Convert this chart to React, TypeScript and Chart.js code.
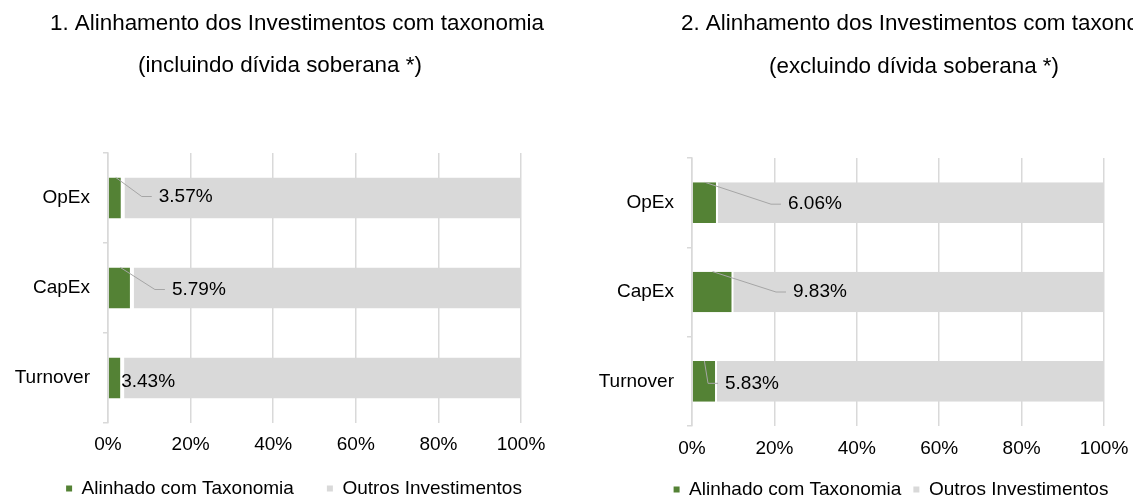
import React, { useEffect, useRef } from 'react';
import { Chart, registerables } from 'chart.js';

Chart.register(...registerables);

// ---------- data ----------
const categories = ['OpEx', 'CapEx', 'Turnover'];
const seriesNames = ['Alinhado com Taxonomia', 'Outros Investimentos'];
const alignedIncl = [3.57, 5.79, 3.43];
const othersIncl = [96.43, 94.21, 96.57];
const alignedExcl = [6.06, 9.83, 5.83];
const othersExcl = [93.94, 90.17, 94.17];
const xTickValues = [0, 20, 40, 60, 80, 100];
const titleIncl = ['1. Alinhamento dos Investimentos com taxonomia', '(incluindo dívida soberana *)'];
const titleExcl = ['2. Alinhamento dos Investimentos com taxonomia', '(excluindo dívida soberana *)'];

// ---------- style ----------
const FONT = '"Liberation Sans", Arial, sans-serif';
const TEXT = '#000000';
const GREEN = '#548235';
const GREY = '#d9d9d9';
const GRID = '#d9d9d9';
const LEADER = '#a6a6a6';
const FS = 19;

type Spec = {
  left: number; width: number; height: number;
  top: number; bottom: number; axisLeft: number; plotRight: number;
  tickPad: number; legendPad: number; gap: number;
  titles: string[]; titleX: number[]; titleY: number[];
  aligned: number[]; others: number[];
  labelDx: number[]; labelDy: number[]; leader: boolean[];
};

const specs: Spec[] = [
  {
    left: 0, width: 588, height: 508, top: 153, bottom: 423, axisLeft: 108, plotRight: 521,
    tickPad: 10, legendPad: 33, gap: 2,
    titles: titleIncl, titleX: [297, 280], titleY: [30, 72],
    aligned: alignedIncl, others: othersIncl,
    labelDx: [36, 40, -1], labelDy: [-1.5, 1.5, 4], leader: [true, true, false],
  },
  {
    left: 598, width: 586, height: 509, top: 158, bottom: 426, axisLeft: 94, plotRight: 506,
    tickPad: 11, legendPad: 12, gap: 1,
    titles: titleExcl, titleX: [330, 316], titleY: [30, 73],
    aligned: alignedExcl, others: othersExcl,
    labelDx: [71, 60.5, 9], labelDy: [1.5, 0, 2], leader: [true, true, true],
  },
];

function titlePlugin(spec: Spec) {
  return {
    id: 'twoLineTitle',
    afterDraw(chart: any) {
      const ctx = chart.ctx;
      ctx.save();
      ctx.font = `22.4px ${FONT}`;
      ctx.fillStyle = TEXT;
      ctx.textAlign = 'center';
      ctx.textBaseline = 'alphabetic';
      spec.titles.forEach((t, i) => ctx.fillText(t, spec.titleX[i], spec.titleY[i]));
      ctx.restore();
    },
  };
}

// lets the x tick labels overhang into the legend band without being clipped
const tickAreaPlugin = {
  id: 'tickArea',
  afterLayout(chart: any) {
    const x = chart.scales.x;
    if (x) x.bottom = Math.max(x.bottom, x.top + 40);
  },
};

function labelPlugin(spec: Spec) {
  return {
    id: 'leaderLabels',
    afterDatasetsDraw(chart: any) {
      const meta = chart.getDatasetMeta(0);
      const ctx = chart.ctx;
      ctx.save();
      ctx.font = `${FS}px ${FONT}`;
      ctx.fillStyle = TEXT;
      ctx.textAlign = 'left';
      ctx.textBaseline = 'middle';
      ctx.strokeStyle = LEADER;
      ctx.lineWidth = 1;
      meta.data.forEach((el: any, i: number) => {
        const { x, y, base, height } = el.getProps(['x', 'y', 'base', 'height'], true);
        const lx = x + spec.labelDx[i];
        const ly = y + spec.labelDy[i];
        if (spec.leader[i]) {
          ctx.beginPath();
          ctx.moveTo((x + base) / 2, y - height / 2);
          ctx.lineTo(lx - 17, ly);
          ctx.lineTo(lx - 7, ly);
          ctx.stroke();
        }
        const v = chart.data.datasets[0].data[i] as number;
        ctx.fillText(v.toFixed(2) + '%', lx, ly);
      });
      ctx.restore();
    },
  };
}

function buildConfig(spec: Spec): any {
  const legendHeight = FS + spec.legendPad + 10;
  return {
    type: 'bar',
    data: {
      labels: categories,
      datasets: [
        {
          label: seriesNames[0],
          data: spec.aligned,
          backgroundColor: GREEN,
          borderColor: '#ffffff',
          borderWidth: { top: 0, bottom: 0, left: 0, right: spec.gap },
          borderSkipped: false,
          barPercentage: 0.456,
          categoryPercentage: 1,
        },
        {
          label: seriesNames[1],
          data: spec.others,
          backgroundColor: GREY,
          borderColor: '#ffffff',
          borderWidth: { top: 0, bottom: 0, left: spec.gap, right: 0 },
          borderSkipped: false,
          barPercentage: 0.456,
          categoryPercentage: 1,
        },
      ],
    },
    options: {
      indexAxis: 'y',
      responsive: false,
      animation: false,
      layout: { padding: { top: spec.top, left: 0, right: 0, bottom: 0 } },
      scales: {
        x: {
          stacked: true,
          min: 0,
          max: 100,
          afterBuildTicks: (s: any) => { s.ticks = xTickValues.map((v) => ({ value: v })); },
          afterFit: (s: any) => {
            s.height = spec.height - legendHeight - spec.bottom;
            s.paddingRight = spec.width - spec.plotRight;
          },
          ticks: {
            callback: (v: any) => `${v}%`,
            padding: spec.tickPad,
            color: TEXT,
            font: { family: FONT, size: FS },
            maxRotation: 0,
          },
          grid: { color: GRID, lineWidth: 1.5, drawTicks: false },
          border: { display: false },
        },
        y: {
          stacked: true,
          afterFit: (s: any) => { s.width = spec.axisLeft; },
          ticks: {
            padding: 13,
            color: TEXT,
            font: { family: FONT, size: FS },
          },
          grid: { display: true, drawOnChartArea: false, drawTicks: true, tickLength: 5, color: GRID, lineWidth: 1.5 },
          border: { display: true, color: GRID, width: 1.5 },
        },
      },
      plugins: {
        title: { display: false },
        tooltip: { enabled: false },
        legend: {
          display: true,
          position: 'bottom',
          labels: {
            boxWidth: 6,
            boxHeight: 6,
            padding: spec.legendPad,
            color: TEXT,
            font: { family: FONT, size: FS },
            generateLabels: (chart: any) =>
              (Chart.defaults.plugins.legend.labels.generateLabels as any)(chart).map((l: any) => ({ ...l, lineWidth: 0 })),
          },
        },
      },
    },
    plugins: [tickAreaPlugin, titlePlugin(spec), labelPlugin(spec)],
  };
}

function ChartCanvas({ spec }: { spec: Spec }) {
  const ref = useRef<HTMLCanvasElement>(null);
  useEffect(() => {
    const chart = new Chart(ref.current as HTMLCanvasElement, buildConfig(spec));
    return () => chart.destroy();
  }, [spec]);
  return (
    <canvas
      ref={ref}
      width={spec.width}
      height={spec.height}
      style={{ position: 'absolute', left: spec.left, top: 0, width: spec.width, height: spec.height }}
    />
  );
}

export default function App() {
  return (
    <div
      style={{
        position: 'fixed', left: 0, top: 0, width: 1133, height: 497,
        overflow: 'hidden', background: '#ffffff',
      }}
    >
      {specs.map((s, i) => (
        <ChartCanvas key={i} spec={s} />
      ))}
    </div>
  );
}
